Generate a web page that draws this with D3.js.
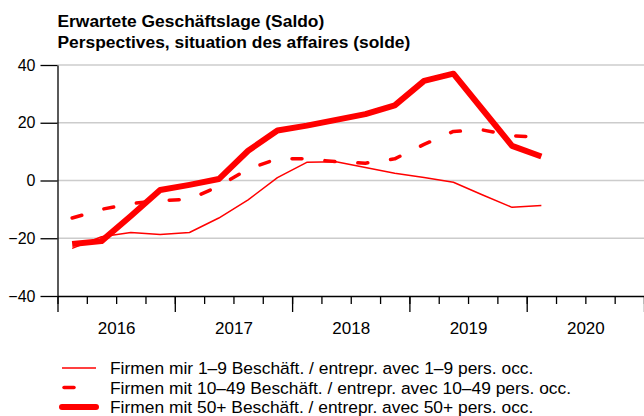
<!DOCTYPE html>
<html lang="de">
<head>
<meta charset="utf-8">
<title>Erwartete Geschäftslage</title>
<script src="https://cdn.jsdelivr.net/npm/d3@7"></script>
<style>
  body { margin: 0; background: #fff; }
  svg { font-family: "Liberation Sans", Arial, sans-serif; }
  .axis path, .axis line { stroke: #000; stroke-width: 1.3; }
  .axis text { fill: #000; }
</style>
</head>
<body>
<svg id="chart" width="644" height="416"></svg>
<script>
// quarters 2016Q1 .. 2020Q1
const quarters = ["2016Q1","2016Q2","2016Q3","2016Q4","2017Q1","2017Q2","2017Q3","2017Q4",
                  "2018Q1","2018Q2","2018Q3","2018Q4","2019Q1","2019Q2","2019Q3","2019Q4","2020Q1"];
const small  = [-23.5, -19.5, -18, -18.7, -18, -13, -6.7, 1, 6.3, 6.5, 4.5, 2.5, 1, -0.6, -5, -9.3, -8.7];
const medium = [-13, -10, -8, -7, -6.5, -2, 4, 7.5, 7.5, 6.5, 6, 7.5, 12.5, 17, 17.5, 15.5, 15];
const large  = [-22, -21, -12.3, -3.3, -1.5, 0.5, 10.3, 17.3, 19, 21, 23, 26, 34.5, 37, 24.5, 12, 8.3];
const years = [2016, 2017, 2018, 2019, 2020];
const yTicks = [-40, -20, 0, 20, 40];
const titleLines = ["Erwartete Geschäftslage (Saldo)", "Perspectives, situation des affaires (solde)"];
const legendLabels = [
  "Firmen mir 1–9 Beschäft. / entrepr. avec 1–9 pers. occ.",
  "Firmen mit 10–49 Beschäft. / entrepr. avec 10–49 pers. occ.",
  "Firmen mit 50+ Beschäft. / entrepr. avec 50+ pers. occ."
];

const svg = d3.select("#chart");
const mLeft = 57.5, mRight = 644, mTop = 65, mBottom = 296;

// quarter string -> decimal year at the middle of the quarter
const qTime = q => +q.slice(0, 4) + (+q.slice(5) - 1) / 4 + 0.125;

const x = d3.scaleLinear().domain([2016, 2021]).range([mLeft, mRight]);
const y = d3.scaleLinear().domain([-40, 40]).range([mBottom, mTop]);

// title
svg.selectAll(".title").data(titleLines).join("text")
  .attr("x", mLeft).attr("y", (d, i) => 27 + i * 20.5)
  .attr("font-size", 17.4).attr("font-weight", "bold")
  .text(d => d);

// grid
svg.append("g").selectAll("line").data(yTicks.filter(d => d > -40)).join("line")
  .attr("x1", mLeft).attr("x2", mRight)
  .attr("y1", d => y(d)).attr("y2", d => y(d))
  .attr("stroke", "#cccccc").attr("stroke-width", 1.5);

// y axis
svg.append("g").attr("class", "axis")
  .attr("transform", `translate(${mLeft},0)`)
  .call(d3.axisLeft(y).tickValues(yTicks).tickSize(17).tickSizeOuter(0).tickPadding(5))
  .call(g => g.selectAll("text").attr("font-size", 16));

// x axis: quarter ticks + year ticks
const quarterTicks = d3.range(2016, 2021.01, 0.25);
svg.append("g").attr("class", "axis")
  .attr("transform", `translate(0,${mBottom})`)
  .call(d3.axisBottom(x).tickValues(quarterTicks).tickSize(8).tickSizeOuter(0).tickFormat(""));
svg.append("g").attr("class", "axis")
  .attr("transform", `translate(0,${mBottom})`)
  .call(d3.axisBottom(x).tickValues(years.concat([2021])).tickSize(16).tickSizeOuter(0).tickFormat(""))
  .call(g => g.select(".domain").remove());
svg.append("g").attr("class", "axis")
  .attr("transform", `translate(0,${mBottom})`)
  .call(d3.axisBottom(x).tickValues(years.map(d => d + 0.5)).tickSize(0).tickPadding(26)
    .tickFormat(d => String(Math.floor(d))))
  .call(g => g.select(".domain").remove())
  .call(g => g.selectAll("text").attr("font-size", 17));

// lines
const series = [
  { values: small,  width: 1.5, dash: null },
  { values: medium, width: 3.5, dash: "10,23" },
  { values: large,  width: 6,   dash: null }
];
const line = d3.line().x((d, i) => x(qTime(quarters[i]))).y(d => y(d));

svg.append("g").selectAll("path").data(series).join("path")
  .attr("d", d => line(d.values))
  .attr("fill", "none")
  .attr("stroke", "#ff0000")
  .attr("stroke-width", d => d.width)
  .attr("stroke-linejoin", "round")
  .attr("stroke-linecap", d => d.dash ? "round" : "butt")
  .attr("stroke-dasharray", d => d.dash);

// legend
const lg = svg.append("g").selectAll("g").data(series).join("g")
  .attr("transform", (d, i) => `translate(62,${368 + i * 19.5})`);
lg.append("line")
  .attr("x1", d => d.dash ? 2 : 0).attr("x2", d => d.dash ? 12 : 34)
  .attr("stroke", "#ff0000")
  .attr("stroke-width", d => d.width)
  .attr("stroke-linecap", d => d.width > 3 ? "round" : "butt");
lg.append("text")
  .attr("x", 48).attr("dy", "0.35em")
  .attr("font-size", 17.4)
  .text((d, i) => legendLabels[i]);
</script>
</body>
</html>
